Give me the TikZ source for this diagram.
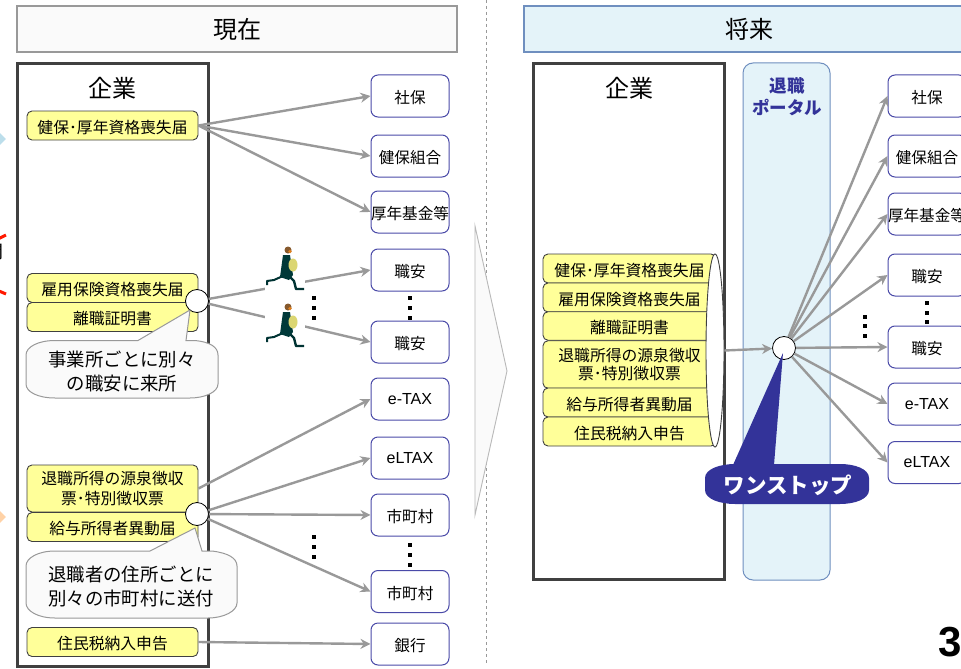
\documentclass[tikz,border=0pt]{standalone}
\usepackage{fontspec}
\setmainfont{Noto Sans CJK JP}
\newfontfamily\latinfont{Liberation Sans}
\usetikzlibrary{shapes.geometric}
\usetikzlibrary{positioning}
\usetikzlibrary{arrows.meta}
\definecolor{lineg}{HTML}{999999}
\definecolor{frameg}{HTML}{404040}
\definecolor{paleg}{HTML}{FAFAFA}
\definecolor{paleb}{HTML}{E4F3F9}
\definecolor{edgeb}{HTML}{6F8FBF}
\definecolor{navy}{HTML}{333399}
\definecolor{boxb}{HTML}{4A4AA8}
\definecolor{yel}{HTML}{FFFF99}
\tikzset{
    lowtext/.style = {execute at begin node={\rule{0pt}{#1}}},
    titlebox/.style = {rectangle, line width=1.2pt, inner sep=0pt, font=\fontsize{24}{28}\selectfont},
    framebox/.style = {rectangle, line width=2.2pt, draw=frameg, fill=white, inner sep=0pt},
    headtext/.style = {inner sep=0pt, font=\fontsize{24}{28}\selectfont},
    yellowbox/.style = {rectangle, rounded corners=5pt, draw=frameg, fill=yel, line width=0.9pt, minimum width=171pt, inner sep=0pt, align=center, lowtext=17pt, font=\fontsize{15.8}{20}\selectfont},
    scrollbox/.style = {rectangle, rounded corners=5pt, draw=frameg, fill=yel, line width=0.9pt, minimum width=173pt, inner sep=0pt, align=center, lowtext=17pt, font=\fontsize{15.8}{18.5}\selectfont},
    latinbox/.style = {rectangle, rounded corners=7pt, draw=boxb, fill=white, line width=1pt, minimum width=78pt, minimum height=42pt, inner sep=0pt, font=\latinfont\fontsize{16}{18}\selectfont},
    destbox/.style = {latinbox, lowtext=17pt, font=\fontsize{15.6}{18}\selectfont},
    hubnode/.style = {circle, draw=black, fill=white, line width=0.8pt, minimum size=23pt, inner sep=0pt},
    edgeg/.style = {-{Stealth[length=10pt,width=10pt]}, line width=2.4pt, lineg},
    calloutbox/.style = {draw=lineg, fill=paleg, line width=1pt},
    callouttext/.style = {inner sep=0pt, align=center, font=\fontsize{18.4}{23.5}\selectfont},
    dotmark/.style = {rectangle, fill=black, minimum size=3.2pt, inner sep=0pt},
    runner/.pic = {
      \fill[white] (0,0) rectangle (40,48);
      \draw[line width=2pt, line join=round, black!60!teal] (18,31) -- (9,35) -- (2,36) -- (2,40);
      \draw[line width=2.4pt, line join=round, black!60!teal] (22,29) -- (29,36) -- (31,44) -- (39,44);
      \fill[black!55!teal] (18,10) -- (25,10) -- (28,30) -- (24,35) -- (15,32) -- cycle;
      \fill[yellow!60!gray!80!white] (28,20) ellipse (4.5 and 6.5);
      \fill[brown!70!black] (23,5) circle (3.5);
      \fill[orange!50!brown] (25,6.5) circle (1.8);
    }
}
\begin{document}
\begin{tikzpicture}[x=1pt,y=-1pt]
\path[use as bounding box,clip] (0,0) rectangle (961,669);
\fill[white] (0,0) rectangle (961,669);

% cut off at the page edge
\node[diamond, fill=cyan!25!white!85!gray, minimum size=22pt, inner sep=0pt] (markb) at (-5,139) {};
\node[diamond, fill=orange!35, minimum size=22pt, inner sep=0pt] (marko) at (-5,517) {};
\node[inner sep=0pt, font=\fontsize{18}{20}\selectfont] (cutchar) at (-5,252) {間};
\draw[line width=3pt, red!80!orange] (-1,238.5) -- (6,235);
\draw[line width=3pt, red!80!orange] (-1,291) -- (6,294);

\draw[lineg, dashed, line width=0.7pt] (486,0) -- (486,663);
\draw[lineg!70, fill=paleg, line width=0.9pt] (475,226) -- (507,371) -- (475,515) -- cycle;

\node[titlebox, draw=lineg, fill=paleg, minimum width=440pt, minimum height=46pt] (now) at (237,29) {現在};
\node[titlebox, draw=edgeb, fill=paleb, minimum width=450pt, minimum height=46pt] (future) at (749,29) {将来};

% left side
\node[framebox, minimum width=191pt, minimum height=603pt] (firma) at (113,365) {};
\node[headtext] (firmatext) at (112,88) {企業};

\node[yellowbox, minimum height=29pt] (kenpo) at (112.5,125.5) {健保･厚年資格喪失届};
\node[yellowbox, minimum height=29pt] (koyo) at (112.5,288) {雇用保険資格喪失届};
\node[yellowbox, minimum height=29pt] (rishoku) at (112.5,317) {離職証明書};
\node[yellowbox, minimum height=47pt] (taishoku) at (112.5,488.5) {退職所得の源泉徴収\\票･特別徴収票};
\node[yellowbox, minimum height=29pt] (kyuyo) at (112.5,527) {給与所得者異動届};
\node[yellowbox, minimum height=29pt] (jumin) at (112.5,642) {住民税納入申告};

\node[destbox] (shaho) at (410,96) {社保};
\node[destbox] (kumiai) at (410,156) {健保組合};
\node[destbox] (kikin) at (410,212) {厚年基金等};
\node[destbox] (anteia) at (410,270) {職安};
\node[destbox] (anteib) at (410,342) {職安};
\node[latinbox] (etax) at (410,399) {e-TAX};
\node[latinbox] (eltax) at (410,458) {eLTAX};
\node[destbox] (shia) at (410,515) {市町村};
\node[destbox] (shib) at (410,591.5) {市町村};
\node[destbox] (ginko) at (410,644) {銀行};

\node[hubnode] (huba) at (197,301) {};
\node[hubnode] (hubb) at (197,514) {};

\draw[edgeg] (kenpo.east) -- (shaho.west);
\draw[edgeg] (kenpo.east) -- (kumiai.west);
\draw[edgeg] (kenpo.east) -- (kikin.west);
\draw[edgeg] (huba) -- (anteia.west);
\draw[edgeg] (huba) -- (anteib.west);
\draw[edgeg] (taishoku.east) -- (etax.west);
\draw[edgeg] (hubb) -- (eltax.west);
\draw[edgeg] (hubb) -- (shia.west);
\draw[edgeg] (hubb) -- (shib.west);
\draw[edgeg] (jumin.east) -- (ginko.west);

\pic at (265,245) {runner};
\pic at (265,302) {runner};

\foreach \y in {298,308,318} \node[dotmark] (dota\y) at (314,\y) {};
\foreach \y in {298,308,318} \node[dotmark] (dotb\y) at (410,\y) {};
\foreach \y in {537,547,557} \node[dotmark] (dotc\y) at (314,\y) {};
\foreach \y in {545,555,565} \node[dotmark] (dotd\y) at (410,\y) {};

\draw[calloutbox] (138,340.5) -- (190,310) -- (186,340.5) -- (195,340.5)
  .. controls (210,342) and (218,347) .. (218,355) -- (218,384)
  .. controls (218,392) and (205,398) .. (190,398) -- (55,398)
  .. controls (38,398) and (26,392) .. (26,384) -- (26,355)
  .. controls (26,347) and (38,340.5) .. (55,340.5) -- cycle;
\node[callouttext] (notea) at (122,371.5) {事業所ごとに別々\\の職安に来所};

\draw[calloutbox] (150,551) -- (195,528) -- (202,551) -- (212,551)
  .. controls (228,553) and (237,558) .. (237,566) -- (237,603)
  .. controls (237,611) and (224,618) .. (208,618) -- (55,618)
  .. controls (38,618) and (26,611) .. (26,603) -- (26,566)
  .. controls (26,558) and (38,551) .. (55,551) -- cycle;
\node[callouttext] (noteb) at (131,586.5) {退職者の住所ごとに\\別々の市町村に送付};

% right side
\node[framebox, minimum width=191pt, minimum height=516pt] (firmb) at (629,321.5) {};
\node[headtext] (firmbtext) at (629,88) {企業};

\node[rectangle, rounded corners=10pt, draw=edgeb, fill=paleb, line width=1pt, minimum width=87pt, minimum height=517pt, inner sep=0pt] (portal) at (786.5,321.5) {};
\node[inner sep=0pt, align=center, text=navy, font=\bfseries\fontsize{17.5}{22}\selectfont] (portaltext) at (787,96.5) {退職\\ポータル};

\node[scrollbox, minimum height=29pt] (rowa) at (629.5,268.5) {健保･厚年資格喪失届};
\node[scrollbox, minimum height=29pt] (rowb) at (629.5,297.5) {雇用保険資格喪失届};
\node[scrollbox, minimum height=28.5pt] (rowc) at (629.5,326) {離職証明書};
\node[scrollbox, minimum height=47.5pt] (rowd) at (629.5,364.5) {退職所得の源泉徴収\\票･特別徴収票};
\node[scrollbox, minimum height=29pt] (rowe) at (629.5,402.5) {給与所得者異動届};
\node[scrollbox, minimum height=29pt] (rowf) at (629.5,431.5) {住民税納入申告};
\node[ellipse, draw=frameg, fill=white, line width=0.9pt, minimum width=18pt, minimum height=193pt, inner sep=0pt] (scrollend) at (715,350.5) {};

\node[destbox] (rshaho) at (927,96) {社保};
\node[destbox] (rkumiai) at (927,156) {健保組合};
\node[destbox] (rkikin) at (927,214) {厚年基金等};
\node[destbox] (ranteia) at (927,275) {職安};
\node[destbox] (ranteib) at (927,347) {職安};
\node[latinbox] (retax) at (927,404) {e-TAX};
\node[latinbox] (reltax) at (927,462.5) {eLTAX};

\node[hubnode] (hubc) at (784,348) {};

\draw[edgeg] (scrollend.east) -- (hubc);
\draw[edgeg] (hubc) -- (rshaho.west);
\draw[edgeg] (hubc) -- (rkumiai.west);
\draw[edgeg] (hubc) -- (rkikin.west);
\draw[edgeg] (hubc) -- (ranteia.west);
\draw[edgeg] (hubc) -- (ranteib.west);
\draw[edgeg] (hubc) -- (retax.west);
\draw[edgeg] (hubc) -- (reltax.west);

\foreach \y in {317,326,336} \node[dotmark] (dote\y) at (865,\y) {};
\foreach \y in {303,313,322} \node[dotmark] (dotf\y) at (927,\y) {};

\fill[navy] (733,465) -- (783,353) -- (774,465) -- cycle;
\fill[navy] (705,478) .. controls (705,469) and (720,464) .. (735,464) -- (840,464)
  .. controls (855,464) and (869,469) .. (869,478) -- (869,490)
  .. controls (869,499) and (855,504) .. (840,504) -- (735,504)
  .. controls (720,504) and (705,499) .. (705,490) -- cycle;
\node[inner sep=0pt, text=white, font=\bfseries\fontsize{21.5}{24}\selectfont] (stop) at (788,485) {ワンストップ};

\node[inner sep=0pt, font=\latinfont\bfseries\fontsize{42}{44}\selectfont] (pageno) at (950.5,642) {3};
\end{tikzpicture}
\end{document}
